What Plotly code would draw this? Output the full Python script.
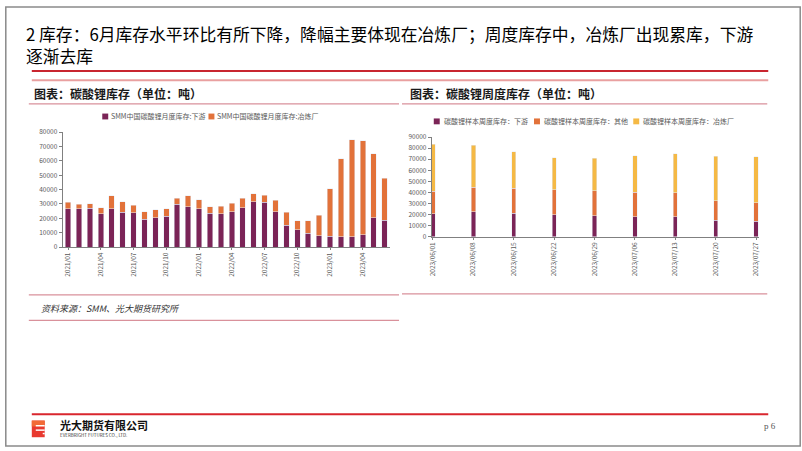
import plotly.graph_objects as go

# ---------------- data ----------------
months = ["2021/01","2021/02","2021/03","2021/04","2021/05","2021/06","2021/07","2021/08","2021/09","2021/10",
          "2021/11","2021/12","2022/01","2022/02","2022/03","2022/04","2022/05","2022/06","2022/07","2022/08",
          "2022/09","2022/10","2022/11","2022/12","2023/01","2023/02","2023/03","2023/04","2023/05","2023/06"]
month_ticks = ["2021/01","2021/04","2021/07","2021/10","2022/01","2022/04","2022/07","2022/10","2023/01","2023/04"]
monthly_downstream = [26500,26700,27000,23100,26500,24200,23800,19300,20400,21500,
                      29700,28100,26500,23600,23300,24700,27200,31500,31300,24700,
                      15000,12000,9500,7700,7500,7300,7000,8600,20400,18800]
monthly_total = [31050,29900,30100,27200,35800,31500,29200,24500,26100,26700,
                 33800,35600,32900,28100,28300,30400,33800,37200,36000,32400,
                 24200,18400,18400,22000,40600,61400,74600,73900,65000,48000]
monthly_smelter = [t - d for t, d in zip(monthly_total, monthly_downstream)]

weeks = ["2023/06/01","2023/06/08","2023/06/15","2023/06/22","2023/06/29",
         "2023/07/06","2023/07/13","2023/07/20","2023/07/27"]
weekly_downstream = [20900,22400,21200,19700,18800,17900,17900,15000,13800]
weekly_other_top = [41200,44700,43800,42400,41500,40000,39700,32400,30600]
weekly_total = [83500,82400,76500,71200,70900,72900,75000,72600,72100]
weekly_other = [o - d for o, d in zip(weekly_other_top, weekly_downstream)]
weekly_smelter = [t - o for t, o in zip(weekly_total, weekly_other_top)]

names_left = ["SMM中国碳酸锂月度库存:下游", "SMM中国碳酸锂月度库存:冶炼厂"]
names_right = ["碳酸锂样本周度库存：下游", "碳酸锂样本周度库存：其他", "碳酸锂样本周度库存：冶炼厂"]

C_PURPLE = "#7B2457"
C_ORANGE = "#E2723A"
C_YELLOW = "#F5B945"

W, H = 802, 451
def px(x): return x / W
def py(y): return 1 - y / H

FONT = "Noto Sans CJK SC"
TICKC = "#595959"
AXC = "#808080"

fig = go.Figure()
fig.add_bar(x=months, y=monthly_downstream, name=names_left[0], marker_color=C_PURPLE,
            width=0.5, xaxis="x", yaxis="y", showlegend=False)
fig.add_bar(x=months, y=monthly_smelter, name=names_left[1], marker_color=C_ORANGE,
            width=0.5, xaxis="x", yaxis="y", showlegend=False)
fig.add_bar(x=weeks, y=weekly_downstream, name=names_right[0], marker_color=C_PURPLE,
            width=0.105, xaxis="x2", yaxis="y2", showlegend=False)
fig.add_bar(x=weeks, y=weekly_other, name=names_right[1], marker_color=C_ORANGE,
            width=0.105, xaxis="x2", yaxis="y2", showlegend=False)
fig.add_bar(x=weeks, y=weekly_smelter, name=names_right[2], marker_color=C_YELLOW,
            width=0.105, xaxis="x2", yaxis="y2", showlegend=False)

tickfont = dict(family=FONT, size=6.5, color=TICKC)
fig.update_layout(
    width=W, height=H, margin=dict(l=0, r=0, t=0, b=0),
    paper_bgcolor="white", plot_bgcolor="rgba(0,0,0,0)",
    barmode="stack", showlegend=False,
    xaxis=dict(domain=[px(58), px(388)], anchor="y", type="category", range=[-0.5, 29.5],
               tickmode="array", tickvals=month_ticks, ticktext=month_ticks, tickangle=-90,
               tickfont=tickfont, showline=True, linecolor=AXC, linewidth=1,
               ticks="outside", ticklen=2, tickcolor=AXC, showgrid=False, zeroline=False),
    yaxis=dict(domain=[py(246.5), py(129)], anchor="x", range=[0, 80000], dtick=10000,
               tickfont=tickfont, showline=True, linecolor=AXC, linewidth=1,
               ticks="outside", ticklen=3, tickcolor=AXC, showgrid=False, zeroline=False,
               tickformat="d"),
    xaxis2=dict(domain=[px(430), px(760)], anchor="y2", type="category", range=[-0.03, 8.08],
                tickangle=-90, tickfont=tickfont, showline=True, linecolor=AXC, linewidth=1,
                ticks="outside", ticklen=2, tickcolor=AXC, showgrid=False, zeroline=False),
    yaxis2=dict(domain=[py(236), py(134)], anchor="x2", range=[0, 90000], dtick=10000,
                tickfont=tickfont, showline=True, linecolor=AXC, linewidth=1,
                ticks="outside", ticklen=3, tickcolor=AXC, showgrid=False, zeroline=False,
                tickformat="d"),
)

shapes = []
annos = []
def hline(x0, x1, y, color, w):
    shapes.append(dict(type="line", xref="paper", yref="paper", x0=px(x0), x1=px(x1),
                       y0=py(y), y1=py(y), line=dict(color=color, width=w)))
def rect(x0, y0, x1, y1, color):
    shapes.append(dict(type="rect", xref="paper", yref="paper", x0=px(x0), x1=px(x1),
                       y0=py(y1), y1=py(y0), line=dict(width=0), fillcolor=color))
def text(x, y, s, size, color="#000", xanchor="left", **kw):
    annos.append(dict(xref="paper", yref="paper", x=px(x), y=py(y), text=s, showarrow=False,
                      xanchor=xanchor, yanchor="middle", align="left",
                      font=dict(family=kw.pop("family", FONT), size=size, color=color), **kw))

# frame
shapes.append(dict(type="rect", xref="paper", yref="paper", x0=0.001, x1=0.999, y0=0.002, y1=0.998,
                   line=dict(color="#8a8a8a", width=1.5)))

# title (two lines in one text block)
text(19, 40, "2 库存：6月库存水平环比有所下降，降幅主要体现在冶炼厂；周度库存中，冶炼厂出现累库，下游<br>逐渐去库", 16.8)
hline(27, 769, 66.5, "#C9252F", 2)
hline(27, 769, 76, "#E9A0A0", 2)

# subtitles
text(27, 89, "<b>图表：碳酸锂库存（单位：吨）</b>", 12, "#1a1a1a")
text(406, 89, "<b>图表：碳酸锂周度库存（单位：吨）</b>", 12, "#1a1a1a")
hline(24, 397, 100, "#D9919B", 1.2)
hline(400, 768, 100, "#D9919B", 1.2)

# legends (left)
lf = 7
rect(98, 110, 104, 116, C_PURPLE)
text(105, 113, names_left[0], lf, "#595959")
rect(205, 110, 211, 116, C_ORANGE)
text(212, 113, names_left[1], lf, "#595959")
# legends (right)
rect(432, 115, 438, 121, C_PURPLE)
text(440, 118, names_right[0], lf, "#595959")
rect(533, 115, 539, 121, C_ORANGE)
text(541, 118, names_right[1], lf, "#595959")
rect(633, 115, 639, 121, C_YELLOW)
text(641, 118, names_right[2], lf, "#595959")

# source lines
hline(24, 397, 295.5, "#D9919B", 1.2)
hline(24, 397, 321.5, "#D9919B", 1.2)
hline(400, 768, 294.5, "#D9919B", 1.2)
text(34, 309, "<i>资料来源：SMM、光大期货研究所</i>", 9, "#333333")

# footer
hline(27, 769, 417.5, "#D9262E", 2)
rect(27, 424, 40, 441, "#E8392F")
rect(27, 424, 40, 430, "#F26A36")
rect(31, 428.5, 40, 430, "white")
rect(31, 433, 40, 434.5, "white")
rect(38, 436.5, 40, 438, "white")
text(53, 429, "<b>光大期货有限公司</b>", 11, "#111111")
text(53, 438.5, "EVERBRIGHT FUTURES CO., LTD.", 4.5, "#333333")
text(779, 430, "p 6", 9, "#555555", xanchor="right", family="Liberation Serif")

fig.update_layout(shapes=shapes, annotations=annos)
fig.write_html("out.html")
